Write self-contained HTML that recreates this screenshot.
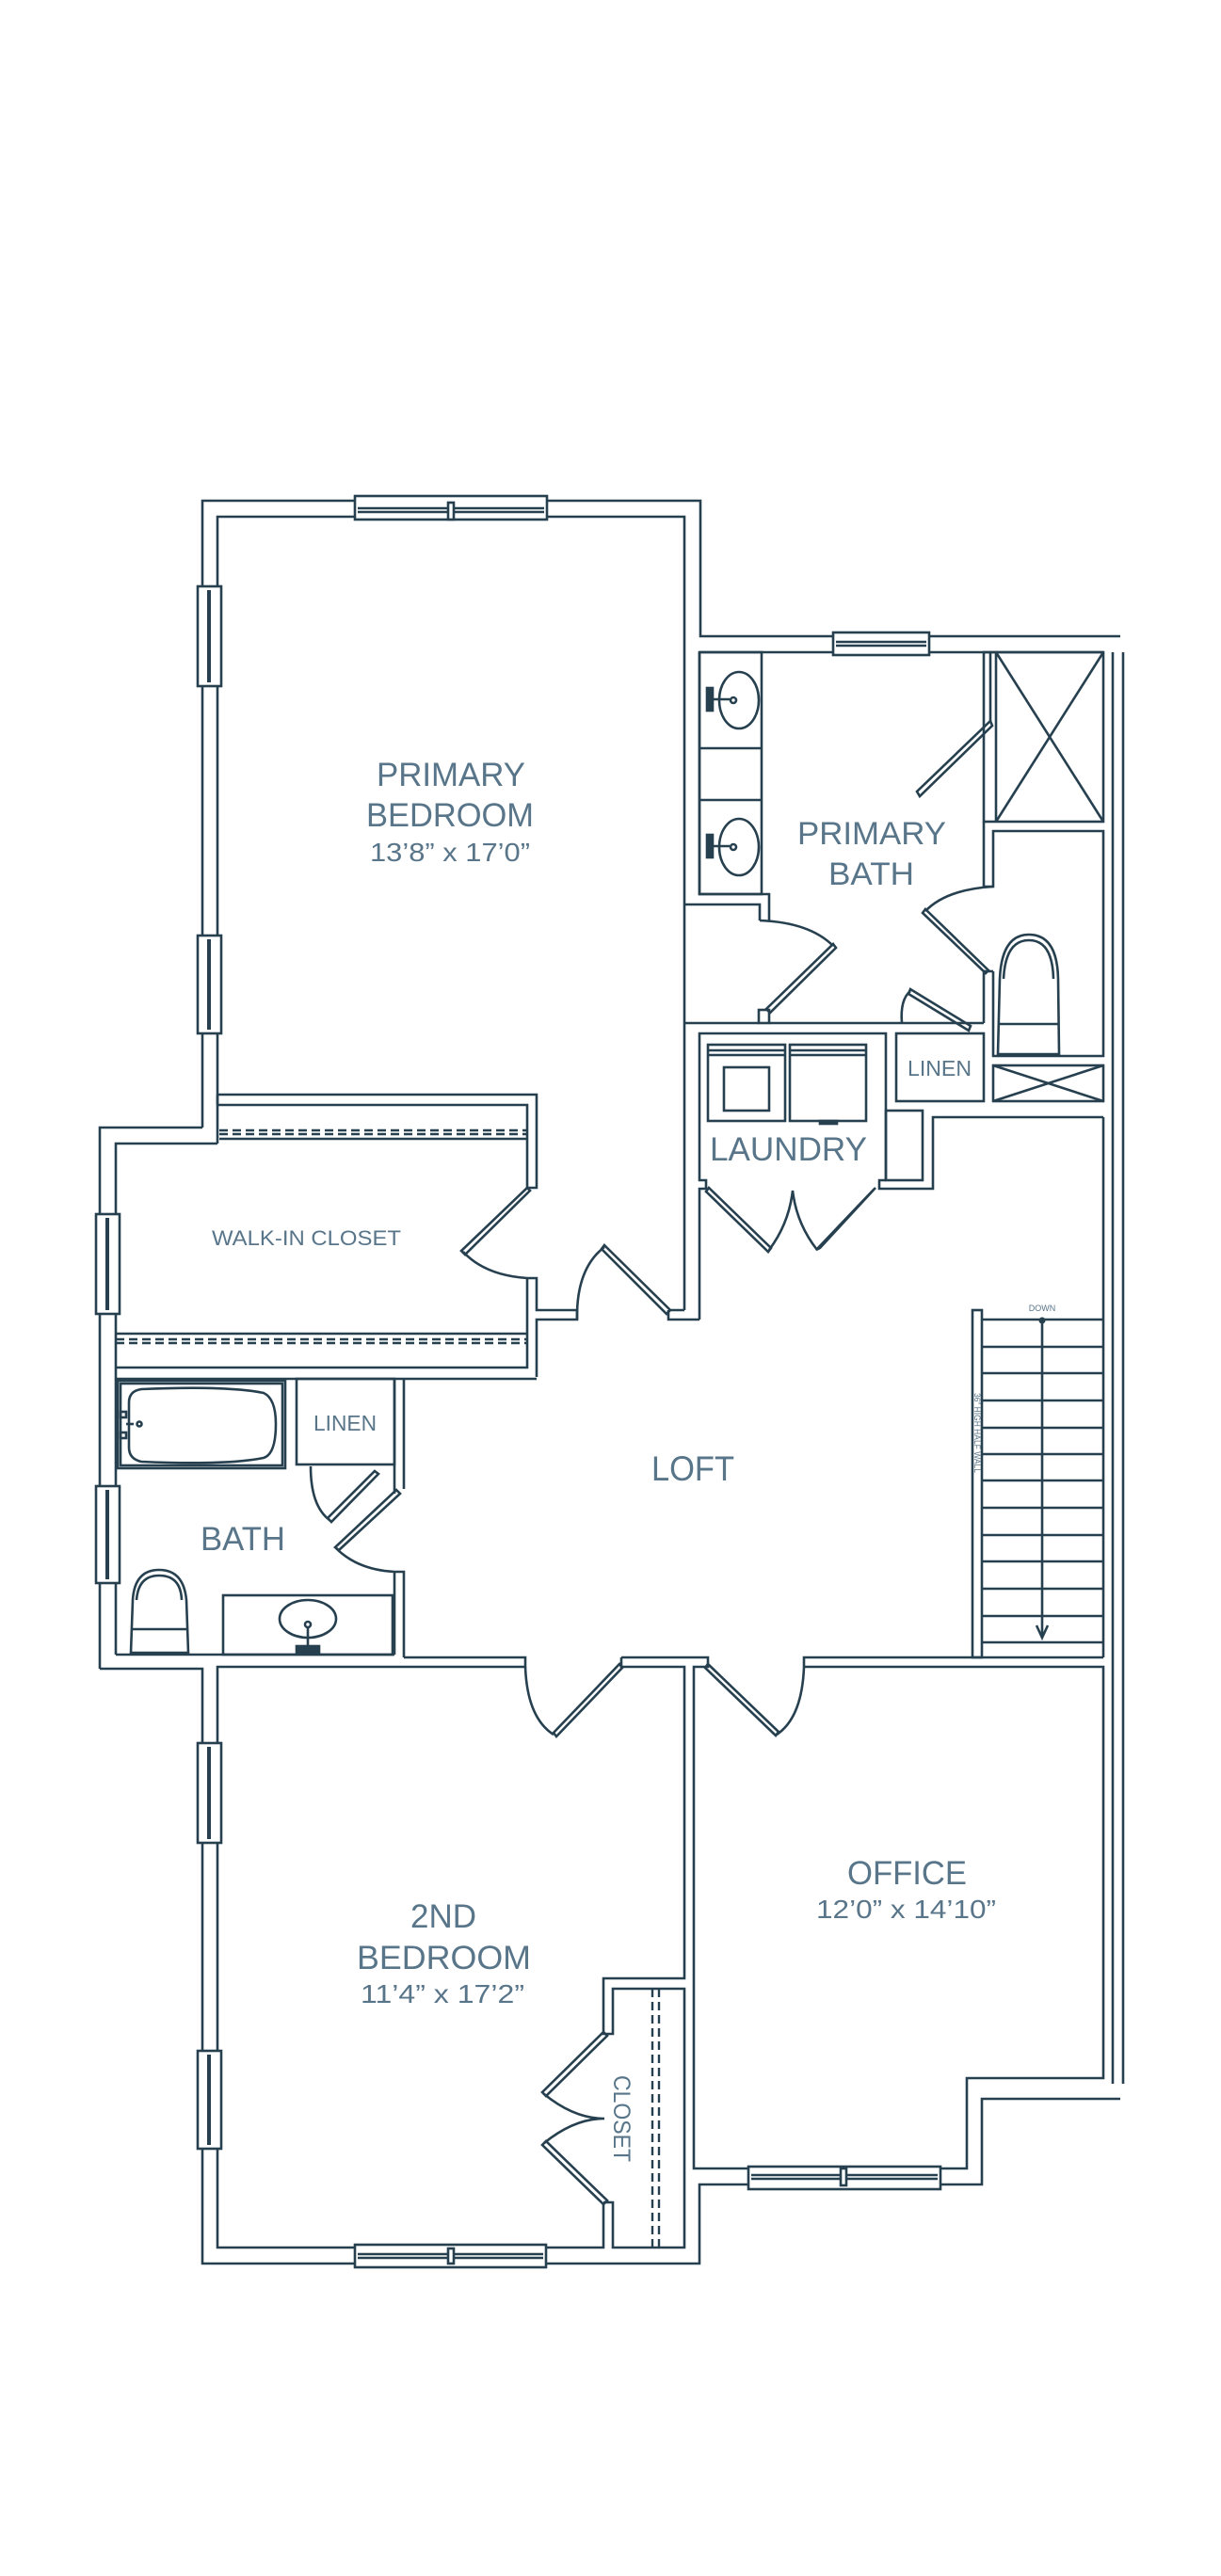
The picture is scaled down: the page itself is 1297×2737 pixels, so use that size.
<!DOCTYPE html>
<html><head><meta charset="utf-8"><style>
html,body{margin:0;padding:0;background:#fff}
svg{display:block}
.w{fill:none;stroke:#27404f;stroke-width:2.6;stroke-linejoin:miter}
.t{fill:none;stroke:#27404f;stroke-width:2}
.d{fill:none;stroke:#27404f;stroke-width:2.4;stroke-dasharray:9 5}
.l{font-family:"Liberation Sans",sans-serif;fill:#587589}
</style></head><body>
<svg width="1297" height="2737" viewBox="0 0 1297 2737" xmlns="http://www.w3.org/2000/svg">
<rect width="1297" height="2737" fill="#fff"/>
<g class="w">
<!-- primary bedroom outer / inner -->
<polyline points="215,1198 215,532 744,532 744,676 1190,676"/>
<polyline points="231,1215 231,549 727,549 727,1392"/>
<polyline points="106,1773 106,1198 215,1198"/>
<polyline points="123,1758 123,1215 231,1215"/>
<!-- top window -->
<rect x="377" y="527" width="204" height="25" fill="#fff"/>
<line x1="380" y1="540" x2="578" y2="540"/><line x1="380" y1="544" x2="578" y2="544"/>
<rect x="476" y="534" width="6" height="18" fill="#fff"/>
<!-- left windows primary -->
<rect x="210" y="623" width="25" height="106" fill="#fff"/><line x1="222" y1="627" x2="222" y2="725" stroke-width="4"/>
<rect x="210" y="994" width="25" height="104" fill="#fff"/><line x1="222" y1="998" x2="222" y2="1094" stroke-width="4"/>
<!-- walk-in windows & bath window -->
<rect x="102" y="1290" width="25" height="106" fill="#fff"/><line x1="114" y1="1294" x2="114" y2="1392" stroke-width="4"/>
<rect x="102" y="1579" width="25" height="103" fill="#fff"/><line x1="114" y1="1583" x2="114" y2="1678" stroke-width="4"/>
<!-- primary bath -->
<polyline points="743,693 1172,693"/>
<rect x="885" y="672" width="102" height="24" fill="#fff"/>
<line x1="888" y1="682" x2="984" y2="682"/><line x1="888" y1="686" x2="984" y2="686"/>
<polyline points="743,693 743,950 817,950 817,978"/>
<polyline points="727,961 807,961 807,978"/>
<rect x="743" y="693" width="66" height="257"/>
<line x1="743" y1="795" x2="809" y2="795"/><line x1="743" y1="850" x2="809" y2="850"/>
<ellipse cx="785" cy="744" rx="21" ry="30"/><ellipse cx="785" cy="900" rx="21" ry="30"/>
<rect x="751" y="731" width="6" height="24" fill="#27404f"/><rect x="751" y="887" width="6" height="24" fill="#27404f"/>
<line x1="757" y1="743" x2="775" y2="743"/><circle cx="779" cy="744" r="3"/>
<line x1="757" y1="899" x2="775" y2="899"/><circle cx="779" cy="900" r="3"/>
<!-- shower -->
<rect x="1045" y="693" width="127" height="180"/>
<line x1="1052" y1="693" x2="1052" y2="768"/><line x1="1058" y1="693" x2="1058" y2="873"/>
<line x1="1058" y1="693" x2="1172" y2="873"/><line x1="1172" y1="693" x2="1058" y2="873"/>
<polygon points="1052,766 1054,771 977,846 974,841"/>
<!-- right of bath -->
<polyline points="1045,873 1045,942 1055,942 1055,883 1172,883 1172,1122 1055,1122 1055,1032"/>
<polyline points="1045,1032 1055,1032"/>
<path d="M1055,942 Q1005,945 983,968"/>
<polygon points="983,966 1050,1031 1047,1034 980,970"/>
<line x1="1045" y1="1032" x2="1045" y2="1087"/>
<rect x="1055" y="1132" width="117" height="38"/>
<line x1="1055" y1="1132" x2="1172" y2="1170"/><line x1="1172" y1="1132" x2="1055" y2="1170"/>
<!-- toilet primary -->
<path d="M1060,1120 L1062,1040 Q1064,993 1093,993 Q1123,993 1124,1040 L1125,1120 Z"/>
<path d="M1066,1040 Q1068,999 1093,999 Q1118,999 1119,1040"/>
<line x1="1061" y1="1088" x2="1125" y2="1088"/>
<!-- far right double wall -->
<line x1="1182" y1="693" x2="1182" y2="2214"/><line x1="1193" y1="693" x2="1193" y2="2214"/>
<!-- primary bath door -->
<path d="M807,978 Q860,980 885,1005"/>
<polygon points="885,1003 888,1007 818,1076 814,1072"/>
<rect x="806" y="1073" width="11" height="14"/>
<polyline points="727,1087 806,1087"/><polyline points="817,1087 1045,1087"/>
<!-- linen primary -->
<rect x="952" y="1098" width="93" height="72"/>
<path d="M958,1087 Q956,1062 967,1053"/>
<polygon points="967,1051 1031,1090 1029,1095 965,1056"/>
<!-- laundry -->
<polyline points="743,1402 743,1263 750,1263 750,1254 743,1254 743,1098 941,1098 941,1254"/>
<rect x="941" y="1180" width="39" height="74"/>
<polyline points="1172,1187 991,1187 991,1263 934,1263 934,1254 941,1254"/>
<rect x="752" y="1110" width="82" height="81"/><line x1="752" y1="1121" x2="834" y2="1121"/><line x1="752" y1="1116" x2="834" y2="1116"/>
<rect x="769" y="1134" width="48" height="46"/>
<rect x="839" y="1110" width="81" height="81"/><line x1="839" y1="1121" x2="920" y2="1121"/><line x1="839" y1="1116" x2="920" y2="1116"/>
<rect x="871" y="1191" width="18" height="3" fill="#27404f"/>
<polygon points="753,1262 819,1326 816,1330 750,1266"/>
<polygon points="930,1262 871,1326 867,1328 927,1265"/>
<path d="M817,1328 Q838,1300 842,1265 Q846,1300 868,1328"/>
<!-- loft right wall -->
<line x1="1172" y1="1187" x2="1172" y2="1761"/>
<!-- walk-in closet -->
<polyline points="231,1163 570,1163 570,1262 560,1262 560,1174 231,1174"/>
<line x1="231" y1="1163" x2="231" y2="1174"/>
<line x1="233" y1="1210" x2="560" y2="1210"/>
<polygon points="560,1262 563,1265 494,1333 490,1329"/>
<path d="M492,1330 Q515,1355 560,1358"/>
<polyline points="560,1358 570,1358 570,1392 613,1392 613,1402 570,1402 570,1463"/>
<polyline points="560,1358 560,1453 123,1453"/>
<line x1="123" y1="1417" x2="560" y2="1417"/>
<path d="M613,1402 Q612,1348 642,1325"/>
<polygon points="642,1323 712,1392 708,1396 639,1327"/>
<polyline points="710,1392 727,1392"/><polyline points="710,1392 710,1402 743,1402"/>
<!-- bath -->
<polyline points="123,1465 570,1465"/>
<rect x="125" y="1467" width="178" height="93"/><rect x="128" y="1470" width="172" height="87"/>
<path d="M137,1490 Q137,1478 150,1476 Q240,1472 280,1480 Q293,1486 293,1513 Q293,1545 280,1549 Q240,1557 150,1553 Q137,1550 137,1538 Z"/>
<rect x="128" y="1500" width="6" height="6"/><rect x="128" y="1522" width="6" height="6"/><line x1="134" y1="1513" x2="142" y2="1513"/><circle cx="148" cy="1513" r="2.5"/>
<rect x="315" y="1465" width="104" height="91"/>
<polyline points="419,1465 419,1587"/><polyline points="429,1465 429,1582"/>
<path d="M330,1558 Q330,1600 350,1615"/>
<polygon points="398,1563 402,1566 352,1617 348,1613"/>
<polygon points="421,1583 425,1587 360,1647 356,1644"/>
<path d="M357,1645 Q380,1668 419,1670"/>
<polyline points="419,1670 429,1670 429,1761"/><line x1="419" y1="1670" x2="419" y2="1758"/>
<rect x="237" y="1695" width="180" height="63"/>
<ellipse cx="327" cy="1720" rx="30" ry="20"/><circle cx="327" cy="1726" r="3"/>
<line x1="327" y1="1729" x2="327" y2="1752"/><rect x="315" y="1749" width="24" height="7" fill="#27404f"/>
<path d="M139,1756 L141,1700 Q143,1668 169,1668 Q195,1668 198,1700 L200,1756 Z"/>
<path d="M145,1700 Q147,1674 169,1674 Q192,1674 193,1700"/>
<line x1="140" y1="1731" x2="200" y2="1731"/>
<polyline points="123,1758 419,1758"/>
<polyline points="106,1773 215,1773 215,2405 743,2405 743,2321 795,2321"/>
<!-- loft bottom -->
<polyline points="429,1761 558,1761 558,1771 231,1771 231,2388 641,2388 641,2340"/>
<polyline points="660,1761 752,1761 752,1771 737,1771 737,2304 795,2304"/>
<polyline points="660,1761 660,1771 727,1771 727,2102 641,2102 641,2161 651,2161 651,2113 727,2113 727,2388 651,2388 651,2340 641,2340"/>
<polyline points="854,1771 854,1761 1172,1761"/>
<polyline points="854,1771 1172,1771 1172,2208 1027,2208 1027,2304 999,2304"/>
<polyline points="1190,2230 1043,2230 1043,2321 999,2321"/>
<path d="M558,1771 Q560,1825 588,1843"/>
<polygon points="588,1841 658,1768 661,1772 591,1845"/>
<path d="M854,1771 Q852,1825 825,1843"/>
<polygon points="752,1768 827,1840 824,1844 749,1772"/>
<!-- bedroom2 closet -->
<line x1="693" y1="2113" x2="693" y2="2388" class="d"/>
<polygon points="641,2159 645,2163 580,2227 576,2223"/>
<path d="M578,2225 Q610,2251 642,2251 Q610,2251 578,2277"/>
<polygon points="576,2279 580,2275 645,2338 641,2342"/>
<!-- bedroom2 windows -->
<rect x="210" y="1852" width="25" height="106" fill="#fff"/><line x1="222" y1="1856" x2="222" y2="1954" stroke-width="4"/>
<rect x="210" y="2179" width="25" height="104" fill="#fff"/><line x1="222" y1="2183" x2="222" y2="2279" stroke-width="4"/>
<rect x="377" y="2385" width="203" height="24" fill="#fff"/>
<line x1="380" y1="2395" x2="577" y2="2395"/><line x1="380" y1="2399" x2="577" y2="2399"/>
<rect x="476" y="2389" width="6" height="16" fill="#fff"/>
<!-- office window -->
<rect x="795" y="2302" width="204" height="24" fill="#fff"/>
<line x1="798" y1="2311" x2="996" y2="2311"/><line x1="798" y1="2315" x2="996" y2="2315"/>
<rect x="893" y="2304" width="6" height="18" fill="#fff"/>
<!-- stairs -->
<rect x="1033" y="1392" width="10" height="369"/>
<line x1="1043" y1="1402" x2="1172" y2="1402"/><line x1="1043" y1="1431" x2="1172" y2="1431"/>
<line x1="1043" y1="1459" x2="1172" y2="1459"/><line x1="1043" y1="1488" x2="1172" y2="1488"/>
<line x1="1043" y1="1517" x2="1172" y2="1517"/><line x1="1043" y1="1545" x2="1172" y2="1545"/>
<line x1="1043" y1="1573" x2="1172" y2="1573"/><line x1="1043" y1="1602" x2="1172" y2="1602"/>
<line x1="1043" y1="1631" x2="1172" y2="1631"/><line x1="1043" y1="1659" x2="1172" y2="1659"/>
<line x1="1043" y1="1688" x2="1172" y2="1688"/><line x1="1043" y1="1717" x2="1172" y2="1717"/>
<line x1="1043" y1="1745" x2="1172" y2="1745"/>
<line x1="1107" y1="1403" x2="1107" y2="1740"/>
<polyline points="1101,1727 1107,1740 1113,1727"/>
</g>
<circle cx="1107" cy="1403" r="3.5" fill="#27404f"/>
<line x1="233" y1="1201" x2="560" y2="1201" class="d"/><line x1="233" y1="1205" x2="560" y2="1205" class="d"/>
<line x1="123" y1="1423" x2="560" y2="1423" class="d"/><line x1="123" y1="1427" x2="560" y2="1427" class="d"/>
<line x1="700" y1="2113" x2="700" y2="2388" class="d"/>
<!-- labels -->
<g class="l">
<text x="400" y="835" font-size="35" textLength="158" lengthAdjust="spacingAndGlyphs">PRIMARY</text>
<text x="389" y="878" font-size="35" textLength="178" lengthAdjust="spacingAndGlyphs">BEDROOM</text>
<text x="393" y="915" font-size="28" textLength="170" lengthAdjust="spacingAndGlyphs">13’8” x 17’0”</text>
<text x="847" y="897" font-size="34" textLength="158" lengthAdjust="spacingAndGlyphs">PRIMARY</text>
<text x="880" y="940" font-size="34" textLength="91" lengthAdjust="spacingAndGlyphs">BATH</text>
<text x="754" y="1233" font-size="35" textLength="167" lengthAdjust="spacingAndGlyphs">LAUNDRY</text>
<text x="964" y="1143" font-size="23" textLength="68" lengthAdjust="spacingAndGlyphs">LINEN</text>
<text x="225" y="1323" font-size="22" textLength="201" lengthAdjust="spacingAndGlyphs">WALK-IN CLOSET</text>
<text x="692" y="1573" font-size="37" textLength="88" lengthAdjust="spacingAndGlyphs">LOFT</text>
<text x="213" y="1647" font-size="35" textLength="90" lengthAdjust="spacingAndGlyphs">BATH</text>
<text x="333" y="1520" font-size="23" textLength="67" lengthAdjust="spacingAndGlyphs">LINEN</text>
<text x="436" y="2048" font-size="35" textLength="70" lengthAdjust="spacingAndGlyphs">2ND</text>
<text x="379" y="2092" font-size="35" textLength="185" lengthAdjust="spacingAndGlyphs">BEDROOM</text>
<text x="383" y="2128" font-size="28" textLength="174" lengthAdjust="spacingAndGlyphs">11’4” x 17’2”</text>
<text x="900" y="2002" font-size="35" textLength="127" lengthAdjust="spacingAndGlyphs">OFFICE</text>
<text x="867" y="2038" font-size="28" textLength="191" lengthAdjust="spacingAndGlyphs">12’0” x 14’10”</text>
<text x="0" y="0" font-size="25" textLength="92" lengthAdjust="spacingAndGlyphs" transform="translate(652,2205) rotate(90)">CLOSET</text>
<text x="1107" y="1393" font-size="9" text-anchor="middle">DOWN</text>
<text x="0" y="0" font-size="9" textLength="85" lengthAdjust="spacingAndGlyphs" transform="translate(1035,1480) rotate(90)">36” HIGH HALF WALL</text>
</g>
</svg>
</body></html>
